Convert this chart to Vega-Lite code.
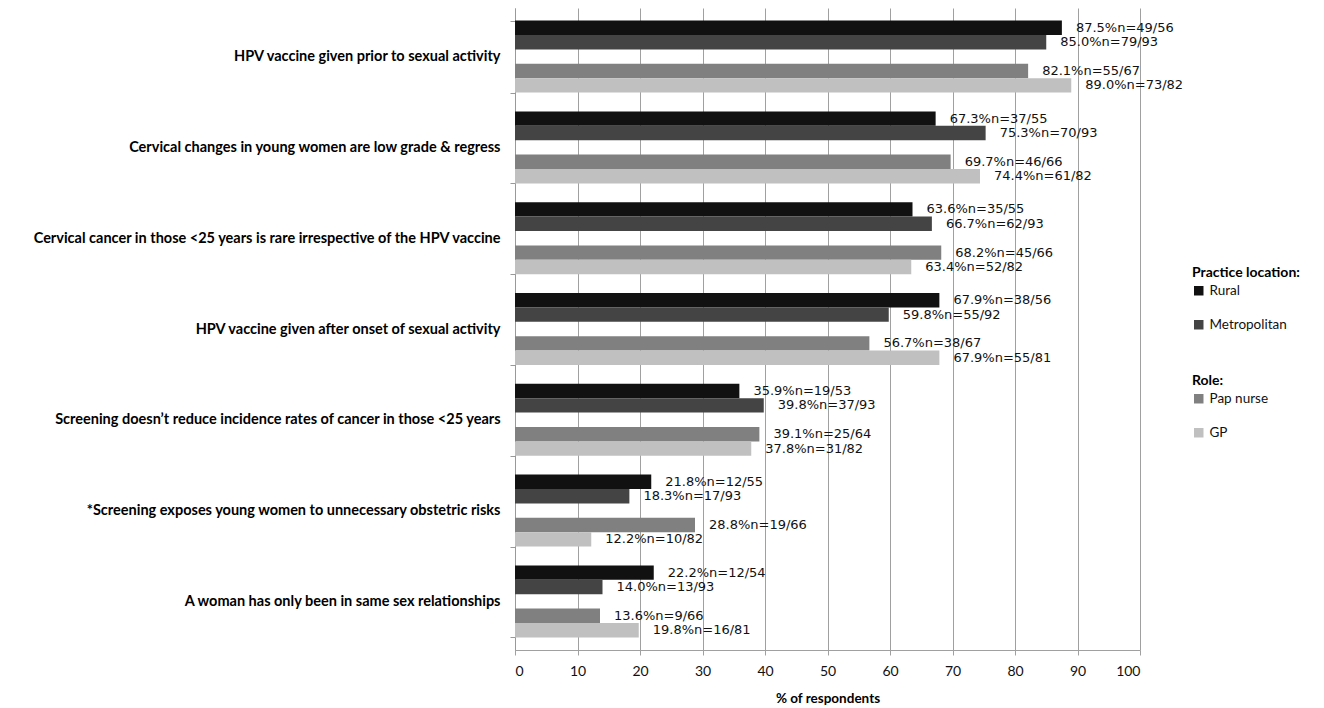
{
  "$schema": "https://vega.github.io/schema/vega-lite/v6.json",
  "width": 625,
  "height": 642,
  "padding": {"left": 31, "top": 0, "right": 5, "bottom": 5},
  "background": "white",
  "config": {
    "font": "Lato",
    "view": {"stroke": null},
    "legend": {
      "orient": "none",
      "titleFont": "Lato",
      "titleFontSize": 14,
      "titleFontWeight": "bold",
      "titleColor": "#000",
      "labelFont": "Lato",
      "labelFontSize": 13.5,
      "labelColor": "#111",
      "symbolType": "square",
      "symbolSize": 90,
      "symbolStrokeWidth": 0,
      "rowPadding": 19,
      "titlePadding": 4,
      "labelOffset": 4
    }
  },
  "data": {
    "values": [
      {"q": "HPV vaccine given prior to sexual activity", "group": "Rural", "kind": "loc", "value": 87.5, "label": "87.5%n=49/56"},
      {"q": "HPV vaccine given prior to sexual activity", "group": "Metropolitan", "kind": "loc", "value": 85.0, "label": "85.0%n=79/93"},
      {"q": "HPV vaccine given prior to sexual activity", "group": "Pap nurse", "kind": "role", "value": 82.1, "label": "82.1%n=55/67"},
      {"q": "HPV vaccine given prior to sexual activity", "group": "GP", "kind": "role", "value": 89.0, "label": "89.0%n=73/82"},
      {"q": "Cervical changes in young women are low grade & regress", "group": "Rural", "kind": "loc", "value": 67.3, "label": "67.3%n=37/55"},
      {"q": "Cervical changes in young women are low grade & regress", "group": "Metropolitan", "kind": "loc", "value": 75.3, "label": "75.3%n=70/93"},
      {"q": "Cervical changes in young women are low grade & regress", "group": "Pap nurse", "kind": "role", "value": 69.7, "label": "69.7%n=46/66"},
      {"q": "Cervical changes in young women are low grade & regress", "group": "GP", "kind": "role", "value": 74.4, "label": "74.4%n=61/82"},
      {"q": "Cervical cancer in those <25 years is rare irrespective of the HPV vaccine", "group": "Rural", "kind": "loc", "value": 63.6, "label": "63.6%n=35/55"},
      {"q": "Cervical cancer in those <25 years is rare irrespective of the HPV vaccine", "group": "Metropolitan", "kind": "loc", "value": 66.7, "label": "66.7%n=62/93"},
      {"q": "Cervical cancer in those <25 years is rare irrespective of the HPV vaccine", "group": "Pap nurse", "kind": "role", "value": 68.2, "label": "68.2%n=45/66"},
      {"q": "Cervical cancer in those <25 years is rare irrespective of the HPV vaccine", "group": "GP", "kind": "role", "value": 63.4, "label": "63.4%n=52/82"},
      {"q": "HPV vaccine given after onset of sexual activity", "group": "Rural", "kind": "loc", "value": 67.9, "label": "67.9%n=38/56"},
      {"q": "HPV vaccine given after onset of sexual activity", "group": "Metropolitan", "kind": "loc", "value": 59.8, "label": "59.8%n=55/92"},
      {"q": "HPV vaccine given after onset of sexual activity", "group": "Pap nurse", "kind": "role", "value": 56.7, "label": "56.7%n=38/67"},
      {"q": "HPV vaccine given after onset of sexual activity", "group": "GP", "kind": "role", "value": 67.9, "label": "67.9%n=55/81"},
      {"q": "Screening doesn’t reduce incidence rates of cancer in those <25 years", "group": "Rural", "kind": "loc", "value": 35.9, "label": "35.9%n=19/53"},
      {"q": "Screening doesn’t reduce incidence rates of cancer in those <25 years", "group": "Metropolitan", "kind": "loc", "value": 39.8, "label": "39.8%n=37/93"},
      {"q": "Screening doesn’t reduce incidence rates of cancer in those <25 years", "group": "Pap nurse", "kind": "role", "value": 39.1, "label": "39.1%n=25/64"},
      {"q": "Screening doesn’t reduce incidence rates of cancer in those <25 years", "group": "GP", "kind": "role", "value": 37.8, "label": "37.8%n=31/82"},
      {"q": "*Screening exposes young women to unnecessary obstetric risks", "group": "Rural", "kind": "loc", "value": 21.8, "label": "21.8%n=12/55"},
      {"q": "*Screening exposes young women to unnecessary obstetric risks", "group": "Metropolitan", "kind": "loc", "value": 18.3, "label": "18.3%n=17/93"},
      {"q": "*Screening exposes young women to unnecessary obstetric risks", "group": "Pap nurse", "kind": "role", "value": 28.8, "label": "28.8%n=19/66"},
      {"q": "*Screening exposes young women to unnecessary obstetric risks", "group": "GP", "kind": "role", "value": 12.2, "label": "12.2%n=10/82"},
      {"q": "A woman has only been in same sex relationships", "group": "Rural", "kind": "loc", "value": 22.2, "label": "22.2%n=12/54"},
      {"q": "A woman has only been in same sex relationships", "group": "Metropolitan", "kind": "loc", "value": 14.0, "label": "14.0%n=13/93"},
      {"q": "A woman has only been in same sex relationships", "group": "Pap nurse", "kind": "role", "value": 13.6, "label": "13.6%n=9/66"},
      {"q": "A woman has only been in same sex relationships", "group": "GP", "kind": "role", "value": 19.8, "label": "19.8%n=16/81"}
    ]
  },
  "encoding": {
    "y": {
      "field": "q",
      "type": "nominal",
      "scale": {
        "domain": [
          "HPV vaccine given prior to sexual activity",
          "Cervical changes in young women are low grade & regress",
          "Cervical cancer in those <25 years is rare irrespective of the HPV vaccine",
          "HPV vaccine given after onset of sexual activity",
          "Screening doesn’t reduce incidence rates of cancer in those <25 years",
          "*Screening exposes young women to unnecessary obstetric risks",
          "A woman has only been in same sex relationships"
        ],
        "paddingInner": 0.207,
        "paddingOuter": 0.139
      },
      "axis": {
        "title": null,
        "labelFont": "Lato",
        "labelFontWeight": "bold",
        "labelFontSize": 14.5,
        "labelColor": "#000",
        "labelPadding": 10,
        "labelLimit": 0,
        "tickBand": "extent",
        "tickSize": 5,
        "tickColor": "#999",
        "domainColor": "#999",
        "grid": false
      }
    },
    "yOffset": {
      "field": "group",
      "type": "nominal",
      "scale": {"domain": ["Rural", "Metropolitan", "gap", "Pap nurse", "GP"], "paddingInner": 0, "paddingOuter": 0}
    },
    "x": {
      "field": "value",
      "type": "quantitative",
      "scale": {"domain": [0, 100], "nice": false},
      "axis": {
        "title": "% of respondents",
        "titleFont": "Lato",
        "titleFontWeight": "bold",
        "titleFontSize": 13.5,
        "titleColor": "#000",
        "titlePadding": 13,
        "values": [0, 10, 20, 30, 40, 50, 60, 70, 80, 90, 100],
        "grid": true,
        "gridColor": "#a0a0a0",
        "tickSize": 5,
        "tickColor": "#a0a0a0",
        "domainColor": "#a0a0a0",
        "labelFont": "Lato",
        "labelFontSize": 14,
        "labelColor": "#111",
        "labelPadding": 9
      }
    }
  },
  "layer": [
    {
      "transform": [{"filter": {"field": "kind", "equal": "loc"}}],
      "mark": {"type": "bar"},
      "encoding": {
        "color": {
          "field": "group",
          "type": "nominal",
          "scale": {"domain": ["Rural", "Metropolitan"], "range": ["#111111", "#444444"]},
          "legend": {"title": "Practice location:", "legendX": 677, "legendY": 258}
        }
      }
    },
    {
      "transform": [{"filter": {"field": "kind", "equal": "role"}}],
      "mark": {"type": "bar"},
      "encoding": {
        "fill": {
          "field": "group",
          "type": "nominal",
          "scale": {"domain": ["Pap nurse", "GP"], "range": ["#808080", "#c0c0c0"]},
          "legend": {"title": "Role:", "legendX": 677, "legendY": 366}
        }
      }
    },
    {
      "mark": {"type": "text", "align": "left", "baseline": "middle", "dx": 14, "font": "DejaVu Sans", "fontSize": 13, "color": "#111"},
      "encoding": {
        "text": {"field": "label", "type": "nominal"}
      }
    }
  ]
}
